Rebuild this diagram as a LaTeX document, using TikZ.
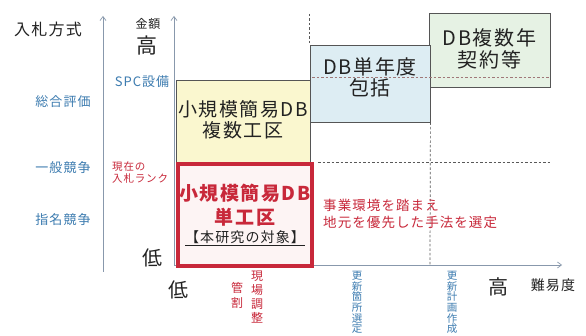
\documentclass[tikz,border=0pt]{standalone}
\usepackage{fontspec}
\setmainfont[LetterSpace=8]{Noto Sans CJK JP}
\usetikzlibrary{arrows.meta}
\definecolor{lblue}{HTML}{3D7CB0}
\definecolor{lred}{HTML}{C8283A}
\definecolor{axisc}{HTML}{8898AC}
\definecolor{yelf}{HTML}{FAF7CF}
\definecolor{bluef}{HTML}{DDEDF3}
\definecolor{greenf}{HTML}{E6F2E4}
\definecolor{redf}{HTML}{FDF4F4}
\definecolor{boxc}{HTML}{555555}
\definecolor{txt}{HTML}{222222}
\definecolor{dashr}{HTML}{A07878}
\begin{document}
\begin{tikzpicture}[x=1pt,y=-1pt,
  axis/.style={draw=axisc, line width=0.7pt, -{Straight Barb[length=4pt,width=6pt]}},
  box/.style={draw=boxc, line width=0.8pt, inner sep=0pt},
  gridline/.style={draw=gray!70!black, dash pattern=on 2.5pt off 2pt, line width=0.7pt},
  gridred/.style={draw=dashr, dash pattern=on 2.5pt off 2pt, line width=0.7pt},
  lab/.style={inner sep=0pt, text=lblue, font=\fontsize{13}{15}\selectfont},
  blk/.style={inner sep=0pt, text=txt},
  redl/.style={inner sep=0pt, text=lred},
  boxtxt/.style={inner sep=0pt, text=txt, align=center},
  vtxt/.style={inner sep=0pt, align=center, anchor=north}
]
\useasboundingbox (0,0) rectangle (586,336);
\fill[white] (0,0) rectangle (586,336);

% axes
\coordinate (ax1b) at (103,272); \coordinate (ax1t) at (103,16);
\coordinate (ax2b) at (174,265); \coordinate (ax2t) at (174,16);
\coordinate (ax3e) at (562,265);
\draw[axis] (ax1b) -- (ax1t);
\draw[axis] (ax2b) -- (ax2t);
\draw[axis] (ax2b) -- (ax3e);

% boxes
\node[box, fill=greenf, minimum width=121, minimum height=74] (green) at (489.5,50) {};
\node[box, fill=bluef, minimum width=120, minimum height=77] (blue) at (370,83.5) {};
\node[box, fill=yelf, minimum width=134, minimum height=82] (yel) at (243,121) {};
\node[draw=lred, line width=3.8pt, fill=redf, minimum width=134, minimum height=102, inner sep=0pt] (red) at (245,215) {};

% dashed grid lines
\coordinate (gv1t) at (309,14); \coordinate (gv1b) at (309,45);
\coordinate (gv2b) at (430,265);
\coordinate (gh1a) at (318,162); \coordinate (gh1b) at (551,162);
\coordinate (gh2a) at (312,77); \coordinate (gh2b) at (550,77);
\draw[gridline] (gv1t) -- (gv1b);
\draw[gridline] (blue.south east) -- (gv2b);
\draw[gridline] (gh1a) -- (gh1b);
\draw[gridred] (gh2a) -- (gh2b);

% box texts
\node[boxtxt, font=\fontsize{19}{21}\selectfont] (yelt) at (243,120) {小規模簡易DB\\複数工区};
\node[boxtxt, text=lred, font=\fontsize{19}{24}\selectfont\bfseries] (redt) at (245,205) {小規模簡易DB\\単工区};
\node[boxtxt, font=\fontsize{14}{16}\selectfont] (redt3) at (245,238) {\underline{【本研究の対象】}};
\node[boxtxt, font=\fontsize{20}{21}\selectfont] (bluet) at (370,77.5) {DB単年度\\包括};
\node[boxtxt, font=\fontsize{20}{22}\selectfont] (greent) at (489.5,49) {DB複数年\\契約等};

% axis labels
\node[blk, font=\fontsize{16}{18}\selectfont] (nyusatsu) at (48,29) {入札方式};
\node[blk, font=\fontsize{12}{14}\selectfont] (kingaku) at (148,24) {金額};
\node[blk, font=\fontsize{21}{23}\selectfont] (takaiy) at (147,46) {高};
\node[lab] (spc) at (142,82) {SPC設備};
\node[lab] (sogo) at (63,102) {総合評価};
\node[lab] (ippan) at (63,168) {一般競争};
\node[lab] (shimei) at (63,220) {指名競争};
\node[redl, anchor=west, align=left, font=\fontsize{10.5}{11.5}\selectfont] (genzai) at (112,172.5) {現在の\\入札ランク};
\node[blk, font=\fontsize{20}{22}\selectfont] (hikuiy) at (152,258) {低};
\node[blk, font=\fontsize{20}{22}\selectfont] (hikuix) at (178,290) {低};
\node[blk, font=\fontsize{20}{22}\selectfont] (takaix) at (498,287) {高};
\node[blk, font=\fontsize{14}{16}\selectfont] (nanido) at (553,285) {難易度};
\node[redl, anchor=west, align=left, font=\fontsize{13.5}{17}\selectfont] (jigyo) at (323,213.5) {事業環境を踏まえ\\地元を優先した手法を選定};

% vertical texts
\node[vtxt, text=lred, font=\fontsize{12}{14}\selectfont] (genba) at (257,271) {現\\場\\調\\整};
\node[vtxt, text=lred, font=\fontsize{12}{15}\selectfont] (kanwari) at (237,282) {管\\割};
\node[vtxt, text=lblue, font=\fontsize{10.5}{10.7}\selectfont] (koshin1) at (357,271) {更\\新\\箇\\所\\選\\定};
\node[vtxt, text=lblue, font=\fontsize{10.5}{10.7}\selectfont] (koshin2) at (452,271) {更\\新\\計\\画\\作\\成};
\end{tikzpicture}
\end{document}
